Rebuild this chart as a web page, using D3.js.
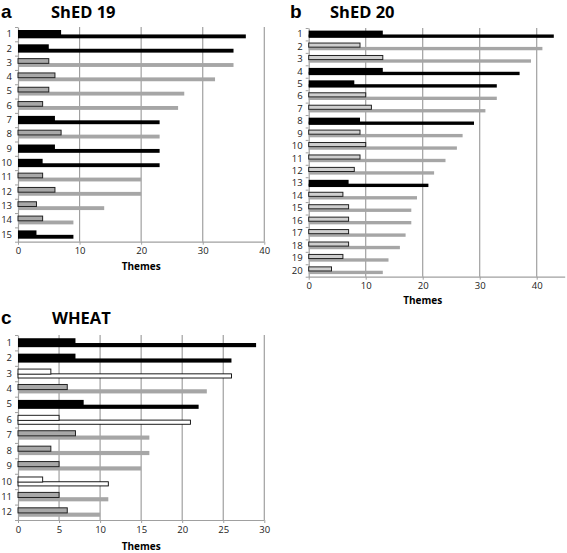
<!DOCTYPE html>
<html><head><meta charset="utf-8">
<script src="https://cdn.jsdelivr.net/npm/d3@7"></script>
<style>body{margin:0;background:#fff}svg{display:block}</style>
</head><body>
<svg id="chart" width="567" height="553"></svg>
<script>
// ---- data ----
const aShort = [7,5,5,6,5,4,6,7,6,4,4,6,3,4,3];
const aLong  = [37,35,35,32,27,26,23,23,23,23,20,20,14,9,9];
const aStyle = ['k','k','g','g','g','g','k','g','k','k','g','g','g','g','k'];

const bShort = [13,9,13,13,8,10,11,9,9,10,9,8,7,6,7,7,7,7,6,4];
const bLong  = [43,41,39,37,33,33,31,29,27,26,24,22,21,19,18,18,17,16,14,13];
const bStyle = ['k','g','g','k','k','g','g','k','g','g','g','g','k','g','g','g','g','g','g','g'];

const cShort = [7,7,4,6,8,5,7,4,5,3,5,6];
const cLong  = [29,26,26,23,22,21,16,16,15,11,11,10];
const cStyle = ['k','k','w','g','k','w','g','g','g','w','g','g'];

const aTicks = [0,10,20,30,40];
const bTicks = [0,10,20,30,40];
const cTicks = [0,5,10,15,20,25,30];

const svg = d3.select('#chart');
const tickFont = "'Open Sans', 'Liberation Sans', sans-serif";

function panel(cfg){
  const {letter,title,shorts,longs,styles,ticks,dmax,amax,x0,x1,y0,y1,titleY,letterX,titleX,tickLabY,themesY,thickGrey} = cfg;
  const n = shorts.length;
  const rows = d3.range(1,n+1);
  const x = d3.scaleLinear().domain([0,dmax]).range([x0,x1]);
  const y = d3.scaleBand().domain(rows).range([y0,y1]).padding(0);
  const yb = d3.scaleLinear().domain([0,n]).range([y0,y1]);
  const g = svg.append('g');
  const bw = y.bandwidth();

  // title
  g.append('text').attr('x',letterX).attr('y',titleY).text(letter)
    .attr('font-family',"'Liberation Sans', Arial, sans-serif").attr('font-weight','bold').attr('font-size',19).attr('fill','#000');
  g.append('text').attr('x',titleX).attr('y',titleY).text(title)
    .attr('font-family',"'Open Sans', 'Liberation Sans', sans-serif").attr('font-weight','bold').attr('font-size',16.5).attr('fill','#000');

  // gridlines
  g.selectAll('.grid').data(ticks.filter(t=>t>0)).enter().append('line')
    .attr('x1',d=>x(d)).attr('x2',d=>x(d)).attr('y1',y0).attr('y2',y1)
    .attr('stroke','#a0a0a0').attr('stroke-width',1.2);

  // bottom axis
  const xa = g.append('g').attr('transform',`translate(0,${y1})`)
    .call(d3.axisBottom(x).tickValues(ticks).tickSize(3).tickSizeOuter(0).tickFormat(d3.format('d')));
  xa.select('.domain').attr('d',`M${x0},0.5H${x(amax)}`).attr('stroke','#a0a0a0').attr('stroke-width',1.2);
  xa.selectAll('.tick line').attr('stroke','#a0a0a0');
  xa.selectAll('.tick text').attr('y',tickLabY).attr('font-family',tickFont).attr('font-size',9.5).attr('fill','#222');
  xa.selectAll('.tick text').attr('dy','0.71em');

  // left axis tick marks at band boundaries
  const la = g.append('g').attr('transform',`translate(${x0},0)`)
    .call(d3.axisLeft(yb).tickValues(d3.range(n+1)).tickSize(3).tickSizeOuter(0).tickFormat(''));
  la.select('.domain').attr('stroke','#a0a0a0').attr('stroke-width',1.2);
  la.selectAll('.tick line').attr('stroke','#a0a0a0');
  // row labels
  const ll = g.append('g').attr('transform',`translate(${x0},0)`)
    .call(d3.axisLeft(y).tickSize(0).tickPadding(6));
  ll.select('.domain').remove();
  ll.selectAll('.tick text').attr('font-family',tickFont).attr('font-size',9.5).attr('fill','#222');

  const data = rows.map((r,i)=>({r, s:shorts[i], l:longs[i], st:styles[i]}));
  // thin (long) bars
  g.selectAll('.thin').data(data).enter().append('rect')
    .attr('x',x(0)).attr('y',d=>y(d.r)+bw*0.52)
    .attr('width',d=>x(d.l)-x(0)).attr('height',bw*0.27)
    .attr('fill',d=>d.st==='k'?'#000':d.st==='w'?'#fff':'#a6a6a6')
    .attr('stroke',d=>d.st==='w'?'#000':'none').attr('stroke-width',0.9);
  // thick (short) bars
  g.selectAll('.thick').data(data).enter().append('rect')
    .attr('x',x(0)).attr('y',d=>y(d.r)+bw*0.21)
    .attr('width',d=>x(d.s)-x(0)).attr('height',d=>d.st==='k'?bw*0.52:bw*0.33)
    .attr('fill',d=>d.st==='k'?'#000':d.st==='w'?'#fff':thickGrey)
    .attr('stroke',d=>d.st==='k'?'none':'#222').attr('stroke-width',1);

  // axis title
  g.append('text').attr('x',(x0+x(ticks[ticks.length-1]))/2).attr('y',themesY).attr('text-anchor','middle')
    .text('Themes').attr('font-family',tickFont).attr('font-weight','bold').attr('font-size',10).attr('fill','#000');
}

panel({letter:'a',title:'ShED 19',shorts:aShort,longs:aLong,styles:aStyle,ticks:aTicks,dmax:40,amax:40,
  x0:18,x1:264.3,y0:27,y1:241.7,titleY:17.5,letterX:1,titleX:51,tickLabY:6,themesY:270,thickGrey:'#a8a8a8'});
panel({letter:'b',title:'ShED 20',shorts:bShort,longs:bLong,styles:bStyle,ticks:bTicks,dmax:40,amax:45,
  x0:308.7,x1:536.7,y0:28,y1:276.7,titleY:17.5,letterX:290,titleX:330,tickLabY:6,themesY:304,thickGrey:'#cfcfcf'});
panel({letter:'c',title:'WHEAT',shorts:cShort,longs:cLong,styles:cStyle,ticks:cTicks,dmax:30,amax:30,
  x0:18,x1:264.3,y0:335,y1:520,titleY:323.5,letterX:1,titleX:52,tickLabY:6,themesY:550,thickGrey:'#a8a8a8'});
</script>
</body></html>
